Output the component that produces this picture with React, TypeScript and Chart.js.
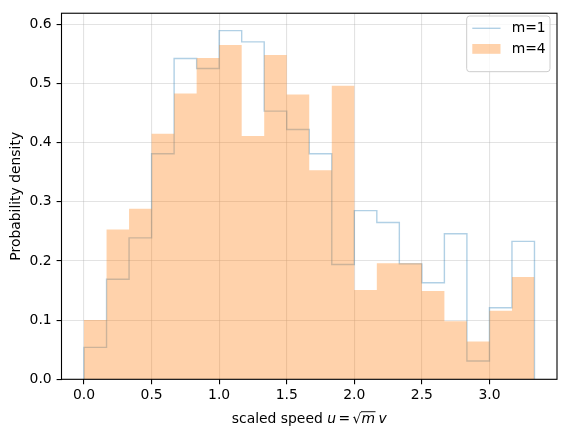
import { useEffect, useRef } from "react";
import { Chart, registerables } from "chart.js";

Chart.register(...registerables);

const binWidth = 1 / 6;
const m1Density = [0.054, 0.169, 0.239, 0.381, 0.542, 0.525, 0.589, 0.570, 0.453, 0.422, 0.381, 0.194, 0.285, 0.265, 0.195, 0.163, 0.246, 0.031, 0.121, 0.233];
const m4Density = [0.100, 0.253, 0.288, 0.415, 0.483, 0.543, 0.565, 0.411, 0.548, 0.481, 0.353, 0.496, 0.151, 0.196, 0.196, 0.149, 0.098, 0.064, 0.116, 0.173];
const xTicks = [0, 0.5, 1, 1.5, 2, 2.5, 3];
const yTicks = [0, 0.1, 0.2, 0.3, 0.4, 0.5, 0.6];
const seriesLabels = ["m=1", "m=4"];
const yTitle = "Probability density";

const FONT = '"DejaVu Sans", "Liberation Sans", sans-serif';
const FS = 13.9;
const BLUE = "rgba(31,119,180,0.35)";
const ORANGE = "rgba(255,127,14,0.35)";

function stepPoints(values: number[]) {
  const pts: { x: number; y: number }[] = [{ x: 0, y: 0 }];
  values.forEach((v, i) => pts.push({ x: i * binWidth, y: v }));
  pts.push({ x: values.length * binWidth, y: 0 });
  return pts;
}

const decorPlugin = {
  id: "decor",
  afterDraw(chart: any) {
    const { ctx, chartArea } = chart;
    const { left, top, right, bottom } = chartArea;
    ctx.save();
    // frame
    ctx.strokeStyle = "#000";
    ctx.lineWidth = 1.1;
    ctx.strokeRect(left, top, right - left, bottom - top);

    // legend
    const lx = 466.7, ly = 16, lw = 83.3, lh = 55.7, r = 3;
    ctx.beginPath();
    ctx.moveTo(lx + r, ly);
    ctx.lineTo(lx + lw - r, ly);
    ctx.quadraticCurveTo(lx + lw, ly, lx + lw, ly + r);
    ctx.lineTo(lx + lw, ly + lh - r);
    ctx.quadraticCurveTo(lx + lw, ly + lh, lx + lw - r, ly + lh);
    ctx.lineTo(lx + r, ly + lh);
    ctx.quadraticCurveTo(lx, ly + lh, lx, ly + lh - r);
    ctx.lineTo(lx, ly + r);
    ctx.quadraticCurveTo(lx, ly, lx + r, ly);
    ctx.closePath();
    ctx.fillStyle = "rgba(255,255,255,0.8)";
    ctx.fill();
    ctx.strokeStyle = "#cccccc";
    ctx.lineWidth = 1;
    ctx.stroke();

    ctx.strokeStyle = BLUE;
    ctx.lineWidth = 1.4;
    ctx.beginPath();
    ctx.moveTo(472.3, 28.3);
    ctx.lineTo(500.5, 28.3);
    ctx.stroke();
    ctx.fillStyle = ORANGE;
    ctx.fillRect(472.3, 44, 28.2, 9.8);

    ctx.fillStyle = "#000";
    ctx.font = `${FS}px ${FONT}`;
    ctx.textBaseline = "middle";
    ctx.textAlign = "left";
    ctx.fillText(seriesLabels[0], 511.7, 28.6);
    ctx.fillText(seriesLabels[1], 511.7, 49.2);

    // y title
    ctx.save();
    ctx.translate(20.2, (top + bottom) / 2);
    ctx.rotate(-Math.PI / 2);
    ctx.textAlign = "center";
    ctx.textBaseline = "alphabetic";
    ctx.fillText(yTitle, 0, 0);
    ctx.restore();

    // x title with math
    const normal = `${FS}px ${FONT}`;
    const italic = `italic ${FS}px ${FONT}`;
    const segs: { t: string; f: string; gap: number; bar?: boolean }[] = [
      { t: "scaled speed ", f: normal, gap: 0 },
      { t: "u", f: italic, gap: 2.5 },
      { t: "=", f: normal, gap: 2.5 },
      { t: "\u221A", f: normal, gap: 0 },
      { t: "m", f: italic, gap: 3.5, bar: true },
      { t: "v", f: italic, gap: 0 },
    ];
    let total = 0;
    segs.forEach((s) => {
      ctx.font = s.f;
      total += ctx.measureText(s.t).width + s.gap;
    });
    let x = (left + right) / 2 - total / 2;
    const base = 423.3;
    ctx.textAlign = "left";
    ctx.textBaseline = "alphabetic";
    segs.forEach((s) => {
      ctx.font = s.f;
      const w = ctx.measureText(s.t).width;
      ctx.fillText(s.t, x, base);
      if (s.bar) {
        ctx.strokeStyle = "#000";
        ctx.lineWidth = 0.9;
        ctx.beginPath();
        ctx.moveTo(x - 0.5, base - 11.6);
        ctx.lineTo(x + w + 0.5, base - 11.6);
        ctx.stroke();
      }
      x += w + s.gap;
    });
    ctx.restore();
  },
};

export default function App() {
  const ref = useRef<HTMLCanvasElement | null>(null);
  useEffect(() => {
    document.body.style.margin = "0";
    if (!ref.current) return;
    const tickFont = { family: FONT, size: FS };
    const chart = new Chart(ref.current, {
      type: "line",
      data: {
        datasets: [
          {
            label: seriesLabels[0],
            data: stepPoints(m1Density),
            borderColor: BLUE,
            borderWidth: 1.4,
            fill: false,
            stepped: true,
            pointRadius: 0,
            order: 1,
          },
          {
            label: seriesLabels[1],
            data: stepPoints(m4Density),
            borderColor: "rgba(0,0,0,0)",
            borderWidth: 0,
            backgroundColor: ORANGE,
            fill: "origin",
            stepped: true,
            pointRadius: 0,
            order: 0,
          },
        ],
      },
      options: {
        animation: false,
        responsive: true,
        maintainAspectRatio: false,
        layout: { padding: { top: 9.7, right: 10, left: 0, bottom: 0 } },
        plugins: { legend: { display: false }, tooltip: { enabled: false } },
        scales: {
          x: {
            type: "linear",
            min: -binWidth,
            max: 3.5,
            afterBuildTicks: (s: any) => {
              s.ticks = xTicks.map((v) => ({ value: v }));
            },
            afterFit: (s: any) => {
              s.height = 58.7;
            },
            grid: {
              color: "rgba(176,176,176,0.35)",
              lineWidth: 1.1,
              tickColor: "#000",
              tickLength: 4.9,
              tickWidth: 1.1,
            },
            border: { display: false },
            ticks: {
              color: "#000",
              font: tickFont,
              padding: 3,
              maxRotation: 0,
              callback: (v: any) => Number(v).toFixed(1),
            },
          },
          y: {
            type: "linear",
            min: 0,
            max: 0.589 * 1.05,
            afterBuildTicks: (s: any) => {
              s.ticks = yTicks.map((v) => ({ value: v }));
            },
            afterFit: (s: any) => {
              s.width = 61.5;
            },
            grid: {
              color: "rgba(176,176,176,0.35)",
              lineWidth: 1.1,
              tickColor: "#000",
              tickLength: 4.9,
              tickWidth: 1.1,
            },
            border: { display: false },
            ticks: {
              color: "#000",
              font: tickFont,
              padding: 4.9,
              callback: (v: any) => Number(v).toFixed(1),
            },
          },
        },
      },
      plugins: [decorPlugin],
    } as any);
    return () => chart.destroy();
  }, []);
  return (
    <div style={{ position: "relative", width: 567, height: 438 }}>
      <canvas ref={ref} />
    </div>
  );
}
